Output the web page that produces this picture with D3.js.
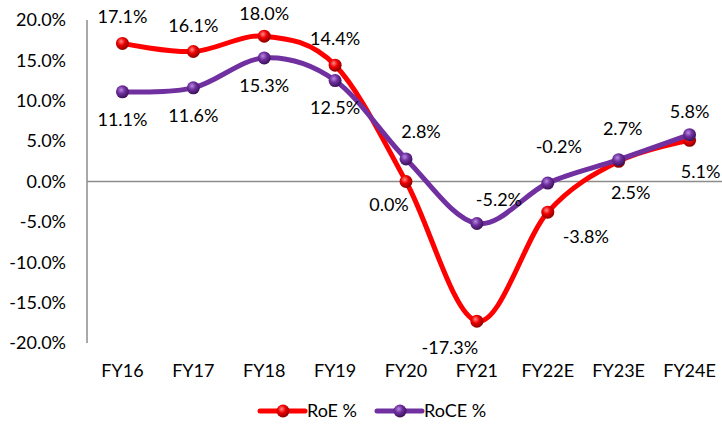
<!DOCTYPE html>
<html>
<head>
<meta charset="utf-8">
<script src="https://cdn.jsdelivr.net/npm/d3@7/dist/d3.min.js"></script>
<style>
  body { margin: 0; background: #fff; }
  text { font-family: Lato, "Open Sans", sans-serif; fill: #000; font-size: 18px; }
</style>
</head>
<body>
<svg id="chart" width="722" height="425"></svg>
<script>
// data
var years = ["FY16", "FY17", "FY18", "FY19", "FY20", "FY21", "FY22E", "FY23E", "FY24E"];
var roe = [17.1, 16.1, 18.0, 14.4, 0.0, -17.3, -3.8, 2.5, 5.1];
var roce = [11.1, 11.6, 15.3, 12.5, 2.8, -5.2, -0.2, 2.7, 5.8];
// label offsets from each point (Excel placed them by hand-ish)
var roeDx = [0, 0, 0, 0, -17, -27, 38, 12, 11];
var roeDy = [-27, -26, -22, -27, 23, 27, 25, 31, 31];
var roceDx = [0, 0, 0, 0, 15, 22, 11, 4, 0];
var roceDy = [28, 28, 28, 27, -27, -24, -36, -31, -23];
var yTicks = [-20, -15, -10, -5, 0, 5, 10, 15, 20];

var svg = d3.select("#chart");
var LEFT = 87, RIGHT = 725, TOP = 20, BOTTOM = 343;

var x = d3.scaleBand().domain(years).range([LEFT, RIGHT]);
var y = d3.scaleLinear().domain([-20, 20]).range([BOTTOM, TOP]);
var cx = function(d, i) { return x(years[i]) + x.bandwidth() / 2; };

// marker gradients (3d ball look)
var defs = svg.append("defs");
function ballGrad(id, light, mid, dark) {
  var g = defs.append("radialGradient").attr("id", id)
    .attr("cx", "40%").attr("cy", "35%").attr("r", "65%");
  g.append("stop").attr("offset", "0%").attr("stop-color", light);
  g.append("stop").attr("offset", "45%").attr("stop-color", mid);
  g.append("stop").attr("offset", "100%").attr("stop-color", dark);
}
ballGrad("gRed", "#ff8a8a", "#f00000", "#8a0000");
ballGrad("gPur", "#b98be0", "#7030a0", "#3a1258");

// axes
svg.append("line")
  .attr("x1", LEFT).attr("x2", LEFT).attr("y1", TOP).attr("y2", BOTTOM)
  .attr("stroke", "#8c8c8c").attr("stroke-width", 1.5);
svg.append("line")
  .attr("x1", LEFT).attr("x2", RIGHT).attr("y1", y(0)).attr("y2", y(0))
  .attr("stroke", "#8c8c8c").attr("stroke-width", 1.5);

svg.selectAll(".ytick").data(yTicks).enter().append("text")
  .attr("class", "ytick")
  .attr("x", 66).attr("y", function(d) { return y(d); })
  .attr("dy", "0.35em")
  .attr("text-anchor", "end")
  .text(function(d) { return d.toFixed(1) + "%"; });

svg.selectAll(".xlab").data(years).enter().append("text")
  .attr("class", "xlab")
  .attr("x", function(d) { return x(d) + x.bandwidth() / 2; })
  .attr("y", 371).attr("dy", "0.35em")
  .attr("text-anchor", "middle")
  .text(function(d) { return d; });

var line = d3.line()
  .x(cx)
  .y(function(d) { return y(d); })
  .curve(d3.curveCardinal.tension(0));

function drawSeries(vals, color, grad) {
  svg.append("path").datum(vals)
    .attr("d", line)
    .attr("fill", "none")
    .attr("stroke", color)
    .attr("stroke-width", 5)
    .attr("stroke-linecap", "round");
  svg.selectAll(null).data(vals).enter().append("circle")
    .attr("cx", cx)
    .attr("cy", function(d) { return y(d); })
    .attr("r", 6.5)
    .attr("fill", "url(#" + grad + ")");
}
function drawLabels(vals, dx, dy) {
  svg.selectAll(null).data(vals).enter().append("text")
    .attr("x", function(d, i) { return cx(d, i) + dx[i]; })
    .attr("y", function(d, i) { return y(d) + dy[i]; })
    .attr("dy", "0.35em")
    .attr("text-anchor", "middle")
    .text(function(d) { return d.toFixed(1) + "%"; });
}

drawSeries(roe, "#ff0000", "gRed");
drawSeries(roce, "#7030a0", "gPur");
drawLabels(roe, roeDx, roeDy);
drawLabels(roce, roceDx, roceDy);

// legend
var legend = [
  { name: "RoE %", color: "#ff0000", grad: "gRed", x0: 260 },
  { name: "RoCE %", color: "#7030a0", grad: "gPur", x0: 377 }
];
var lg = svg.selectAll(".leg").data(legend).enter().append("g").attr("class", "leg");
lg.append("line")
  .attr("x1", function(d) { return d.x0; })
  .attr("x2", function(d) { return d.x0 + 45; })
  .attr("y1", 411).attr("y2", 411)
  .attr("stroke", function(d) { return d.color; })
  .attr("stroke-width", 5).attr("stroke-linecap", "round");
lg.append("circle")
  .attr("cx", function(d) { return d.x0 + 23; })
  .attr("cy", 411).attr("r", 6.5)
  .attr("fill", function(d) { return "url(#" + d.grad + ")"; });
lg.append("text")
  .attr("x", function(d) { return d.x0 + 47; })
  .attr("y", 411).attr("dy", "0.35em")
  .text(function(d) { return d.name; });
</script>
</body>
</html>
